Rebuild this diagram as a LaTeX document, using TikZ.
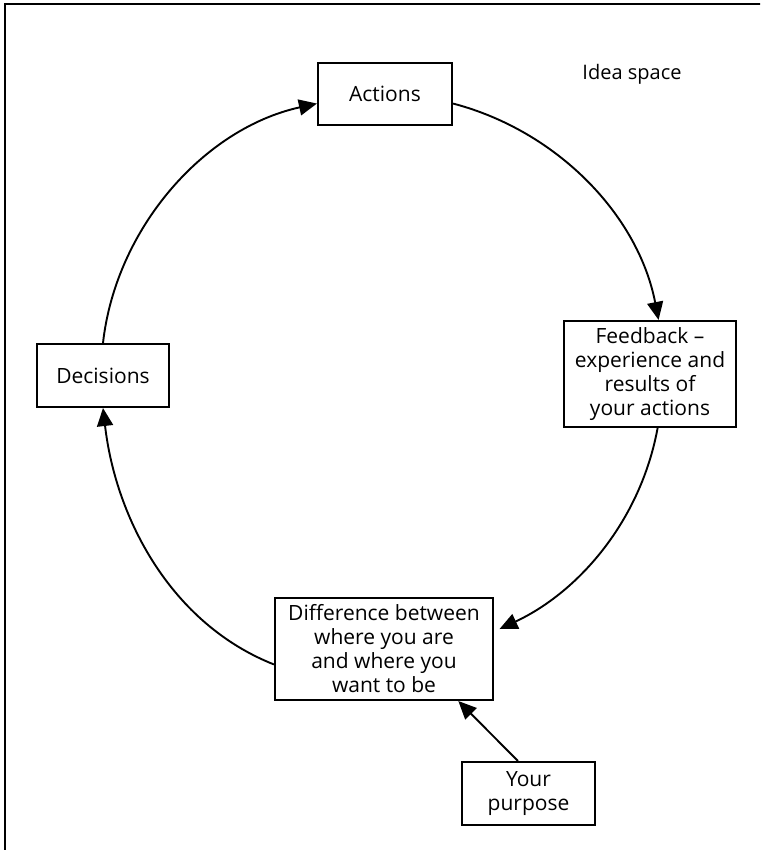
\documentclass[tikz,border=0pt]{standalone}
\usepackage{fontspec}
\setmainfont{Open Sans}
\usetikzlibrary{arrows.meta}
\begin{document}
\begin{tikzpicture}[x=1pt,y=1pt,
  box/.style 2 args={draw, line width=2.1pt, minimum width=#1, minimum height=#2,
    align=center, inner sep=0pt, font=\fontsize{21}{24}\selectfont},
  plain/.style={font=\fontsize{20}{24}\selectfont},
  cyclearrow/.style={line width=1.9pt, -{Triangle[length=18pt,width=16pt]}, looseness=0.92}
]
\clip (0,0) rectangle (760,850);
% outer frame, running off the right and bottom edges
\draw[line width=2pt] (5,-20) rectangle (790,846);

\node[box={134}{62}] (act) at (385,756) {Actions};
\node[plain] (idea) at (632,776) {Idea space};
\node[box={172}{106}] (fb) at (650,476) {Feedback –\\experience and\\results of\\your actions};
\node[box={132}{63}] (dec) at (103,474.5) {Decisions};
\node[box={218}{102}] (diff) at (384,201) {Difference between\\where you are\\and where you\\want to be};
\node[box={133}{63}] (pur) at (528.5,56.5) {Your\\purpose};

% the feedback loop, drawn as arcs of one circle
\draw[cyclearrow] (dec.north) to[out=83.6, in=192.4] (act.188);
\draw[cyclearrow] (act.-8) to[out=-14.7, in=101] (fb.81);
\draw[cyclearrow, shorten >=6pt] (fb.-82) to[out=-100.4, in=25] (diff.9);
\draw[cyclearrow] (diff.188) to[out=158.4, in=-83.4] (dec.south);

\draw[cyclearrow] (pur.108) -- (diff.-35);
\end{tikzpicture}
\end{document}
